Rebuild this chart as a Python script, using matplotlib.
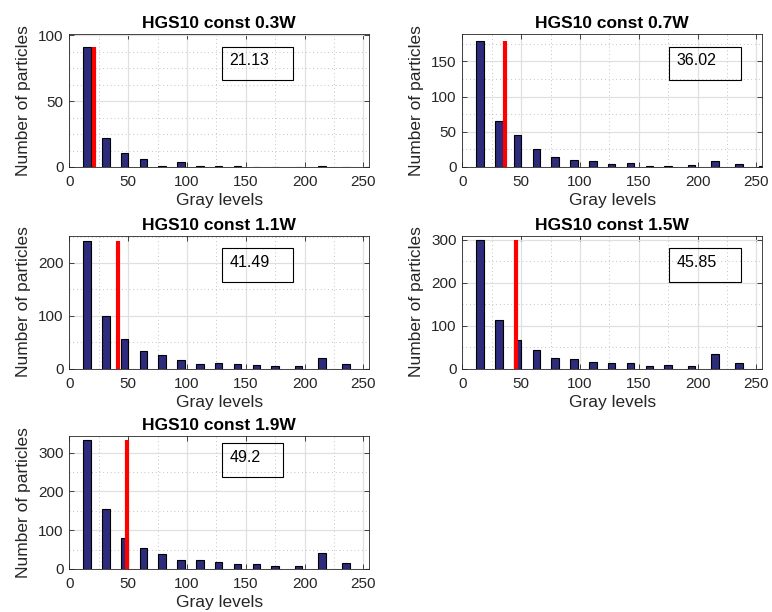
import matplotlib.pyplot as plt
from matplotlib.patches import Rectangle

plt.rcParams['font.family'] = ['Liberation Sans', 'DejaVu Sans']

# bin centres of the gray-level histogram
centers = [15, 31, 47, 63, 79, 95, 111, 127, 143, 159, 175, 195, 215, 235, 255]

titles = ['HGS10 const 0.3W', 'HGS10 const 0.7W', 'HGS10 const 1.1W',
          'HGS10 const 1.5W', 'HGS10 const 1.9W']

counts_03 = [91, 22, 11, 6, 1, 4, 1, 1, 1, 0, 0, 0, 1, 0, 0]
counts_07 = [179, 65, 45, 25, 14, 10, 9, 4, 5, 1, 2, 3, 9, 4, 1]
counts_11 = [242, 99, 56, 34, 25, 16, 8, 11, 8, 6, 4, 4, 20, 8, 0]
counts_15 = [300, 113, 66, 42, 24, 23, 16, 12, 12, 5, 8, 5, 33, 12, 0]
counts_19 = [333, 155, 81, 53, 39, 22, 23, 19, 13, 13, 9, 8, 41, 16, 0]
all_counts = [counts_03, counts_07, counts_11, counts_15, counts_19]

means = [21.13, 36.02, 41.49, 45.85, 49.2]
mean_labels = ['21.13', '36.02', '41.49', '45.85', '49.2']

yticks_major = [50, 50, 100, 100, 100]
yticks_minor = [12.5, 25, 50, 50, 50]

W, H = 772, 612
fig = plt.figure(figsize=(W / 100, H / 100), dpi=100)

# axes boxes in pixels: left, top, width, height
col_left = [69.3, 462.3]
row_top = [34, 235.5, 436]
ax_w, ax_h = 300, 133

# annotation boxes in pixels: left, top, width, height
boxes = [(221.7, 46.7, 71.6, 33.3), (669, 46.7, 72, 33.3),
         (221.7, 248.3, 71.6, 33.3), (669, 248.3, 72, 33.3),
         (221.7, 443.3, 61.6, 33.3)]

navy = '#2d2b7c'
tc = '#262626'

for i in range(5):
    r, c = divmod(i, 2)
    left, top = col_left[c], row_top[r]
    ax = fig.add_axes([left / W, 1 - (top + ax_h) / H, ax_w / W, ax_h / H])
    counts = all_counts[i]
    ax.bar(centers, counts, width=6.4, color=navy, edgecolor='black',
           linewidth=0.8, zorder=2)
    top_val = max(counts)
    ax.plot([means[i], means[i]], [0, top_val], color='#ff0000', lw=3,
            solid_capstyle='butt', zorder=3)
    ax.set_xlim(0, 255)
    ax.set_ylim(0, top_val + 10)
    ax.set_xticks(range(0, 251, 50))
    ax.set_xticks(range(25, 251, 50), minor=True)
    ax.yaxis.set_major_locator(plt.MultipleLocator(yticks_major[i]))
    ax.yaxis.set_minor_locator(plt.MultipleLocator(yticks_minor[i]))
    ax.grid(True, which='major', color='#e0e0e0', lw=0.9, ls='-')
    ax.grid(True, which='minor', color='#b0b0b0', lw=0.6, ls=(0, (1, 3.5)))
    ax.set_axisbelow(True)
    ax.tick_params(which='major', direction='in', length=3.5, width=0.6,
                   top=True, right=True, labelsize=11, colors=tc, pad=4)
    ax.tick_params(axis='x', which='major', pad=6)
    ax.tick_params(which='minor', length=0)
    for sp in ax.spines.values():
        sp.set_color(tc)
        sp.set_linewidth(0.6)
    ax.set_title(titles[i], fontsize=12.5, fontweight='bold', pad=4)
    ax.set_xlabel('Gray levels', fontsize=12.5, color=tc, labelpad=3)
    ax.set_ylabel('Number of particles', fontsize=12.5, color=tc, labelpad=5)

    bx, by, bw, bh = boxes[i]
    fig.patches.append(Rectangle((bx / W, 1 - (by + bh) / H), bw / W, bh / H,
                                 transform=fig.transFigure, fill=False,
                                 edgecolor='black', lw=0.8))
    fig.text((bx + 7.5) / W, 1 - (by + 14) / H, mean_labels[i],
             fontsize=11.5, va='center', ha='left', color='black')

fig.savefig('out.png', dpi=100)
